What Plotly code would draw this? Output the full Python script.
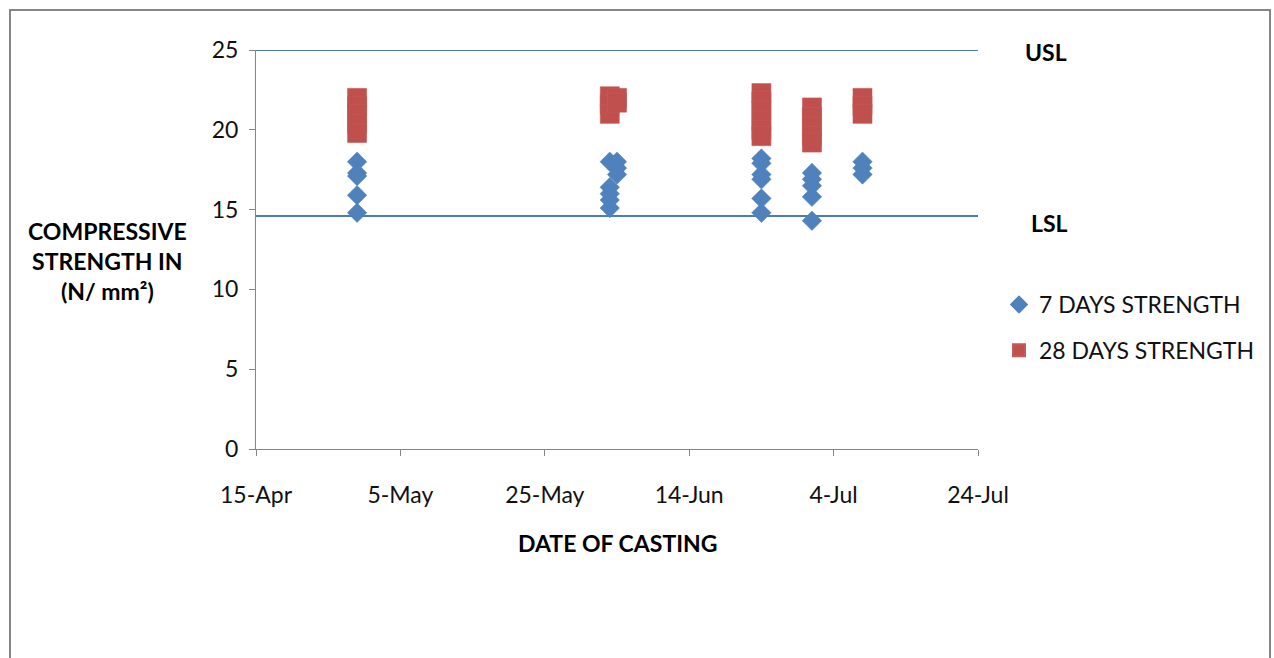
import plotly.graph_objects as go

# Casting dates and measured cube strengths (N/mm²)
dates_7 = (["2010-04-29"] * 5 + ["2010-06-03"] * 5 + ["2010-06-04"] * 3
           + ["2010-06-24"] * 6 + ["2010-07-01"] * 5 + ["2010-07-08"] * 3)
strength_7 = [18.0, 17.3, 17.1, 15.9, 14.8,
              18.0, 16.4, 16.0, 15.6, 15.1,
              18.0, 17.6, 17.2,
              18.2, 17.9, 17.2, 16.9, 15.7, 14.8,
              17.3, 16.9, 16.5, 15.8, 14.3,
              18.0, 17.6, 17.2]

dates_28 = (["2010-04-29"] * 5 + ["2010-06-03"] * 3 + ["2010-06-04"] * 2
            + ["2010-06-24"] * 6 + ["2010-07-01"] * 5 + ["2010-07-08"] * 3)
strength_28 = [22.0, 21.5, 21.0, 20.4, 19.8,
               22.1, 21.6, 21.0,
               22.0, 21.7,
               22.3, 21.8, 21.2, 20.6, 20.0, 19.6,
               21.4, 20.8, 20.2, 19.6, 19.2,
               22.0, 21.5, 21.0]

# Specification limits
limit_dates = ["2010-04-15", "2010-07-24"]
usl = 25.0
lsl = 14.6

tick_dates = ["2010-04-15", "2010-05-05", "2010-05-25",
              "2010-06-14", "2010-07-04", "2010-07-24"]
tick_labels = ["15-Apr", "5-May", "25-May", "14-Jun", "4-Jul", "24-Jul"]

FONT = "Lato"
FS = 23
BLUE = "#4F81BD"
RED = "#C0504D"
LINE = "#4A7EBB"
AXIS = "#868686"
TEXT = "#111111"

fig = go.Figure()

fig.add_trace(go.Scatter(x=limit_dates, y=[usl, usl], mode="lines",
                         line=dict(color=LINE, width=2.2), showlegend=False,
                         cliponaxis=False, hoverinfo="skip"))
fig.add_trace(go.Scatter(x=limit_dates, y=[lsl, lsl], mode="lines",
                         line=dict(color=LINE, width=2.2), showlegend=False,
                         cliponaxis=False, hoverinfo="skip"))

fig.add_trace(go.Scatter(
    x=dates_7, y=strength_7, mode="markers", name="7 DAYS STRENGTH",
    legendgroup="a",
    marker=dict(symbol="diamond", size=15, color=BLUE,
                line=dict(color=BLUE, width=0.5)),
    cliponaxis=False))
fig.add_trace(go.Scatter(
    x=dates_28, y=strength_28, mode="markers", name="28 DAYS STRENGTH",
    legendgroup="b",
    marker=dict(symbol="square", size=19, color=RED,
                line=dict(color="#C45A57", width=0.6)),
    cliponaxis=False))

W, H = 1274, 658
L, R, T, B = 256, 978, 50, 449
pw, ph = R - L, B - T


def px(x):
    return (x - L) / pw


def py(y):
    return (B - y) / ph


fig.update_layout(
    width=W, height=H,
    margin=dict(l=L, r=W - R, t=T, b=H - B, pad=0),
    paper_bgcolor="white", plot_bgcolor="white",
    font=dict(family=FONT, size=FS, color=TEXT),
    showlegend=True,
    legend=dict(x=px(999), y=py(283), xanchor="left", yanchor="top",
                font=dict(family=FONT, size=FS, color=TEXT),
                traceorder="grouped", tracegroupgap=13,
                itemsizing="constant", bgcolor="rgba(0,0,0,0)"),
    xaxis=dict(type="date", range=["2010-04-15", "2010-07-24"],
               tickvals=tick_dates, ticktext=tick_labels,
               showgrid=False, zeroline=False, showline=True,
               linecolor=AXIS, linewidth=1, ticks="outside", ticklen=6,
               tickcolor=AXIS, ticklabelstandoff=19,
               tickfont=dict(family=FONT, size=FS, color=TEXT)),
    yaxis=dict(range=[0, 25], tickvals=[0, 5, 10, 15, 20, 25],
               showgrid=False, zeroline=False, showline=True,
               linecolor=AXIS, linewidth=1, ticks="outside", ticklen=6,
               tickcolor=AXIS, ticklabelstandoff=6,
               tickfont=dict(family=FONT, size=FS, color=TEXT)),
)

# Outer chart frame
fig.add_shape(type="rect", xref="paper", yref="paper",
              x0=px(10), x1=px(1270), y0=py(720), y1=py(10),
              line=dict(color=AXIS, width=2), layer="below")

bold = dict(family=FONT, size=FS, color="#000000")
fig.add_annotation(xref="paper", yref="paper", x=px(617), y=py(543),
                   text="<b>DATE OF CASTING</b>", showarrow=False,
                   font=bold, xanchor="center", yanchor="middle")
fig.add_annotation(xref="paper", yref="paper", x=px(107), y=py(261),
                   text="<b>COMPRESSIVE<br>STRENGTH IN<br>(N/ mm²)</b>",
                   showarrow=False, font=bold, align="center",
                   xanchor="center", yanchor="middle")
fig.add_annotation(xref="paper", yref="paper", x=px(1046), y=py(52),
                   text="<b>USL</b>", showarrow=False, font=bold,
                   xanchor="center", yanchor="middle")
fig.add_annotation(xref="paper", yref="paper", x=px(1049), y=py(223),
                   text="<b>LSL</b>", showarrow=False, font=bold,
                   xanchor="center", yanchor="middle")

fig.write_html("out.html")
